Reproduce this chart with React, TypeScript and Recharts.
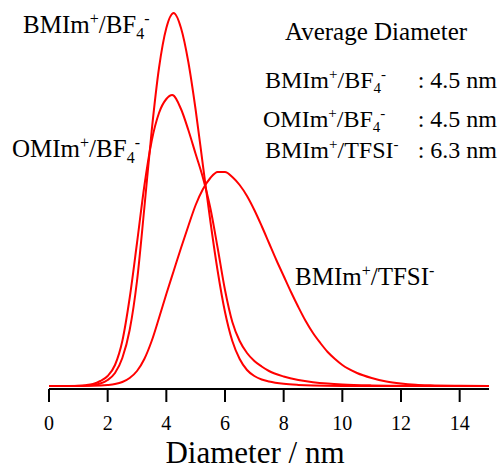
import React from 'react';
import { LineChart, Line, XAxis, YAxis } from 'recharts';

// particle size distributions (intensity in arbitrary units)
const bmimBf4Diam = [0, 1.0, 1.25, 1.5, 1.75, 2.0, 2.25, 2.5, 2.75, 3.0, 3.25, 3.5, 3.75, 4.0, 4.25, 4.5, 4.75, 5.0, 5.25, 5.5, 5.75, 6.0, 6.25, 6.5, 6.75, 7.0, 7.25, 7.5, 8.0, 8.5, 9.0, 10, 11, 15];
const bmimBf4Int = [0, 0.1, 0.3, 1, 2.5, 6, 13, 28, 56, 105, 178, 255, 318, 358, 373, 358, 324, 276, 220, 165, 115, 74, 45, 27, 16, 10, 6.5, 4.5, 2.2, 1.1, 0.5, 0.1, 0, 0];

const omimBf4Diam = [0, 0.75, 1.0, 1.25, 1.5, 1.75, 2.0, 2.25, 2.5, 2.75, 3.0, 3.25, 3.5, 3.75, 4.0, 4.2, 4.5, 4.75, 5.0, 5.25, 5.5, 5.75, 6.0, 6.25, 6.5, 6.75, 7.0, 7.25, 7.5, 8.0, 8.5, 9.0, 9.5, 10, 11, 12, 13, 15];
const omimBf4Int = [0, 0.1, 0.3, 0.8, 2, 5, 10, 21, 45, 88, 143, 200, 245, 273, 287, 291, 277, 256, 232, 208, 178, 138, 96, 64, 45, 33, 25, 19.5, 15, 9.5, 6, 3.8, 2.4, 1.5, 0.6, 0.25, 0.1, 0];

const bmimTfsiDiam = [0, 1.5, 2.0, 2.25, 2.5, 2.75, 3.0, 3.25, 3.5, 3.75, 4.0, 4.25, 4.5, 4.75, 5.0, 5.25, 5.5, 5.75, 6.0, 6.25, 6.5, 6.75, 7.0, 7.25, 7.5, 7.75, 8.0, 8.25, 8.5, 8.75, 9.0, 9.25, 9.5, 9.75, 10, 10.5, 11, 11.5, 12, 12.5, 13, 14, 15];
const bmimTfsiInt = [0, 0.2, 1, 2, 4, 8, 15, 27, 45, 68, 92, 115, 138, 160, 181, 197, 208, 214, 214, 209, 201, 190, 176, 160, 143, 126, 110, 94, 79, 65, 53, 43, 34, 27, 21, 13, 8, 4.5, 2.5, 1.3, 0.7, 0.2, 0];

const xTicks = [0, 2, 4, 6, 8, 10, 12, 14];

const avgLabels = ['4.5 nm', '4.5 nm', '6.3 nm'];

const toPoints = (xs: number[], ys: number[]) => xs.map((x, i) => ({ x, y: ys[i] }));

const serif = '"Liberation Serif", "Times New Roman", serif';
const RED = '#ff0000';

// chemical formula with super/subscripts: cation + / anion (optional subscript 4) -
const Formula = ({ x, y, size, cation, anion, sub }: { x: number; y: number; size: number; cation: string; anion: string; sub?: string }) => {
  const small = Math.round(size * 0.62);
  const up = Math.round(size * 0.36);
  const down = Math.round(size * 0.22);
  return (
    <text x={x} y={y} fontSize={size} fontFamily={serif} fill="#000">
      {cation}
      <tspan fontSize={small} dy={-up}>+</tspan>
      <tspan dy={up}>/{anion}</tspan>
      {sub ? (
        <>
          <tspan fontSize={small} dy={down}>{sub}</tspan>
          <tspan fontSize={small} dy={-down - up}>-</tspan>
        </>
      ) : (
        <tspan fontSize={small} dy={-up}>-</tspan>
      )}
    </text>
  );
};

const App = () => {
  return (
    <div style={{ position: 'absolute', left: 0, top: 0, width: 501, height: 470 }}>
      <LineChart width={501} height={470} margin={{ top: 10, right: 12, left: 49, bottom: 21 }}>
        <XAxis
          dataKey="x"
          type="number"
          domain={[0, 15]}
          ticks={xTicks}
          allowDataOverflow
          height={60}
          axisLine={{ stroke: '#000', strokeWidth: 2 }}
          tickLine={{ stroke: '#000', strokeWidth: 2 }}
          tickSize={13}
          tickMargin={14}
          tick={{ fill: '#000', fontSize: 20, fontFamily: serif }}
        />
        <YAxis type="number" domain={[-3, 376]} allowDataOverflow hide />
        <Line data={toPoints(bmimTfsiDiam, bmimTfsiInt)} dataKey="y" type="monotone" stroke={RED} strokeWidth={2} dot={false} isAnimationActive={false} />
        <Line data={toPoints(omimBf4Diam, omimBf4Int)} dataKey="y" type="monotone" stroke={RED} strokeWidth={2} dot={false} isAnimationActive={false} />
        <Line data={toPoints(bmimBf4Diam, bmimBf4Int)} dataKey="y" type="monotone" stroke={RED} strokeWidth={2} dot={false} isAnimationActive={false} />
      </LineChart>
      <svg width={501} height={470} style={{ position: 'absolute', left: 0, top: 0, pointerEvents: 'none' }}>
        <Formula x={23} y={33} size={25} cation="BMIm" anion="BF" sub="4" />
        <Formula x={12} y={157} size={25} cation="OMIm" anion="BF" sub="4" />
        <Formula x={295} y={285} size={25} cation="BMIm" anion="TFSI" />

        <text x={285} y={40} fontSize={25} fontFamily={serif} fill="#000">Average Diameter</text>
        <Formula x={265} y={88} size={24} cation="BMIm" anion="BF" sub="4" />
        <Formula x={263} y={127} size={24} cation="OMIm" anion="BF" sub="4" />
        <Formula x={265} y={158} size={24} cation="BMIm" anion="TFSI" />
        <text x={497} y={88} fontSize={24} fontFamily={serif} fill="#000" textAnchor="end">: {avgLabels[0]}</text>
        <text x={497} y={127} fontSize={24} fontFamily={serif} fill="#000" textAnchor="end">: {avgLabels[1]}</text>
        <text x={497} y={158} fontSize={24} fontFamily={serif} fill="#000" textAnchor="end">: {avgLabels[2]}</text>

        <text x={255} y={463} fontSize={31} fontFamily={serif} fill="#000" textAnchor="middle">Diameter / nm</text>
      </svg>
    </div>
  );
};

export default App;
